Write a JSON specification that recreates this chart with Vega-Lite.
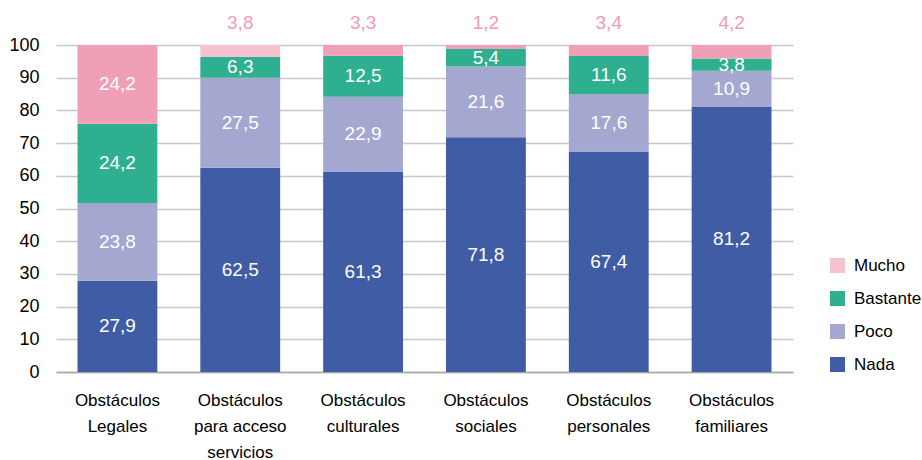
{
  "$schema": "https://vega.github.io/schema/vega-lite/v6.json",
  "width": 737,
  "height": 327,
  "autosize": {"type": "none"},
  "padding": {"left": 56, "top": 45, "right": 129, "bottom": 88},
  "config": {"view": {"stroke": null}, "font": "Liberation Sans"},
  "data": {
    "values": [
      {"categoria": "Obstáculos Legales", "serie": "Nada", "valor": 27.9},
      {"categoria": "Obstáculos Legales", "serie": "Poco", "valor": 23.8},
      {"categoria": "Obstáculos Legales", "serie": "Bastante", "valor": 24.2},
      {"categoria": "Obstáculos Legales", "serie": "Mucho", "valor": 24.2},
      {"categoria": "Obstáculos para acceso servicios", "serie": "Nada", "valor": 62.5},
      {"categoria": "Obstáculos para acceso servicios", "serie": "Poco", "valor": 27.5},
      {"categoria": "Obstáculos para acceso servicios", "serie": "Bastante", "valor": 6.3},
      {"categoria": "Obstáculos para acceso servicios", "serie": "Mucho", "valor": 3.8},
      {"categoria": "Obstáculos culturales", "serie": "Nada", "valor": 61.3},
      {"categoria": "Obstáculos culturales", "serie": "Poco", "valor": 22.9},
      {"categoria": "Obstáculos culturales", "serie": "Bastante", "valor": 12.5},
      {"categoria": "Obstáculos culturales", "serie": "Mucho", "valor": 3.3},
      {"categoria": "Obstáculos sociales", "serie": "Nada", "valor": 71.8},
      {"categoria": "Obstáculos sociales", "serie": "Poco", "valor": 21.6},
      {"categoria": "Obstáculos sociales", "serie": "Bastante", "valor": 5.4},
      {"categoria": "Obstáculos sociales", "serie": "Mucho", "valor": 1.2},
      {"categoria": "Obstáculos personales", "serie": "Nada", "valor": 67.4},
      {"categoria": "Obstáculos personales", "serie": "Poco", "valor": 17.6},
      {"categoria": "Obstáculos personales", "serie": "Bastante", "valor": 11.6},
      {"categoria": "Obstáculos personales", "serie": "Mucho", "valor": 3.4},
      {"categoria": "Obstáculos familiares", "serie": "Nada", "valor": 81.2},
      {"categoria": "Obstáculos familiares", "serie": "Poco", "valor": 10.9},
      {"categoria": "Obstáculos familiares", "serie": "Bastante", "valor": 3.8},
      {"categoria": "Obstáculos familiares", "serie": "Mucho", "valor": 4.2}
    ]
  },
  "transform": [
    {"calculate": "indexof(['Nada','Poco','Bastante','Mucho'], datum.serie)", "as": "orden"},
    {"stack": "valor", "groupby": ["categoria"], "sort": [{"field": "orden", "order": "ascending"}], "as": ["y0", "y1"]},
    {"calculate": "(datum.y0 + datum.y1) / 2", "as": "ymid"},
    {"calculate": "replace(format(datum.valor, '.1f'), '.', ',')", "as": "etiqueta"}
  ],
  "encoding": {
    "x": {
      "field": "categoria",
      "type": "nominal",
      "sort": ["Obstáculos Legales", "Obstáculos para acceso servicios", "Obstáculos culturales", "Obstáculos sociales", "Obstáculos personales", "Obstáculos familiares"],
      "scale": {"paddingInner": 0.35, "paddingOuter": 0.175},
      "axis": {
        "title": null,
        "labelAngle": 0,
        "ticks": false,
        "domainColor": "#A6A6A6",
        "domainWidth": 1.5,
        "labelFontSize": 17,
        "labelColor": "black",
        "labelPadding": 20,
        "labelLineHeight": 26,
        "labelBaseline": "top",
        "labelExpr": "datum.value == 'Obstáculos para acceso servicios' ? ['Obstáculos', 'para acceso', 'servicios'] : split(datum.value, ' ')"
      }
    }
  },
  "layer": [
    {
      "mark": {"type": "bar", "clip": true},
      "encoding": {
        "y": {
          "field": "y0",
          "type": "quantitative",
          "scale": {"domain": [0, 100]},
          "axis": {"title": null, "values": [0, 10, 20, 30, 40, 50, 60, 70, 80, 90, 100], "labelOverlap": false, "ticks": false, "domain": false, "labelFontSize": 18, "labelColor": "black", "labelPadding": 17, "gridColor": "#C8C8C8", "gridWidth": 1.5}
        },
        "y2": {"field": "y1"},
        "color": {
          "condition": {"test": "datum.serie == 'Mucho' && datum.categoria != 'Obstáculos para acceso servicios'", "value": "#F09FB7"},
          "field": "serie",
          "type": "nominal",
          "scale": {"domain": ["Mucho", "Bastante", "Poco", "Nada"], "range": ["#F5C2D0", "#2EAF8F", "#A4A7CF", "#405CA4"]},
          "legend": {
            "title": null,
            "orient": "none",
            "legendX": 773,
            "legendY": 212,
            "symbolType": "square",
            "symbolSize": 225,
            "symbolStrokeWidth": 0,
            "labelFontSize": 17,
            "labelColor": "black",
            "rowPadding": 15,
            "labelOffset": 8
          }
        }
      }
    },
    {
      "transform": [{"filter": "datum.serie != 'Mucho' || datum.categoria == 'Obstáculos Legales'"}],
      "mark": {"type": "text", "color": "white", "fontSize": 19, "baseline": "middle"},
      "encoding": {
        "y": {"field": "ymid", "type": "quantitative", "axis": {"title": null, "values": [0, 10, 20, 30, 40, 50, 60, 70, 80, 90, 100], "labelOverlap": false, "ticks": false, "domain": false, "labelFontSize": 18, "labelColor": "black", "labelPadding": 17, "gridColor": "#C8C8C8", "gridWidth": 1.5}},
        "text": {"field": "etiqueta"}
      }
    },
    {
      "transform": [{"filter": "datum.serie == 'Mucho' && datum.categoria != 'Obstáculos Legales'"}],
      "mark": {"type": "text", "color": "#F29BB8", "fontSize": 19, "baseline": "middle", "dy": -22},
      "encoding": {
        "y": {"field": "y1", "type": "quantitative", "axis": {"title": null, "values": [0, 10, 20, 30, 40, 50, 60, 70, 80, 90, 100], "labelOverlap": false, "ticks": false, "domain": false, "labelFontSize": 18, "labelColor": "black", "labelPadding": 17, "gridColor": "#C8C8C8", "gridWidth": 1.5}},
        "text": {"field": "etiqueta"}
      }
    }
  ]
}
